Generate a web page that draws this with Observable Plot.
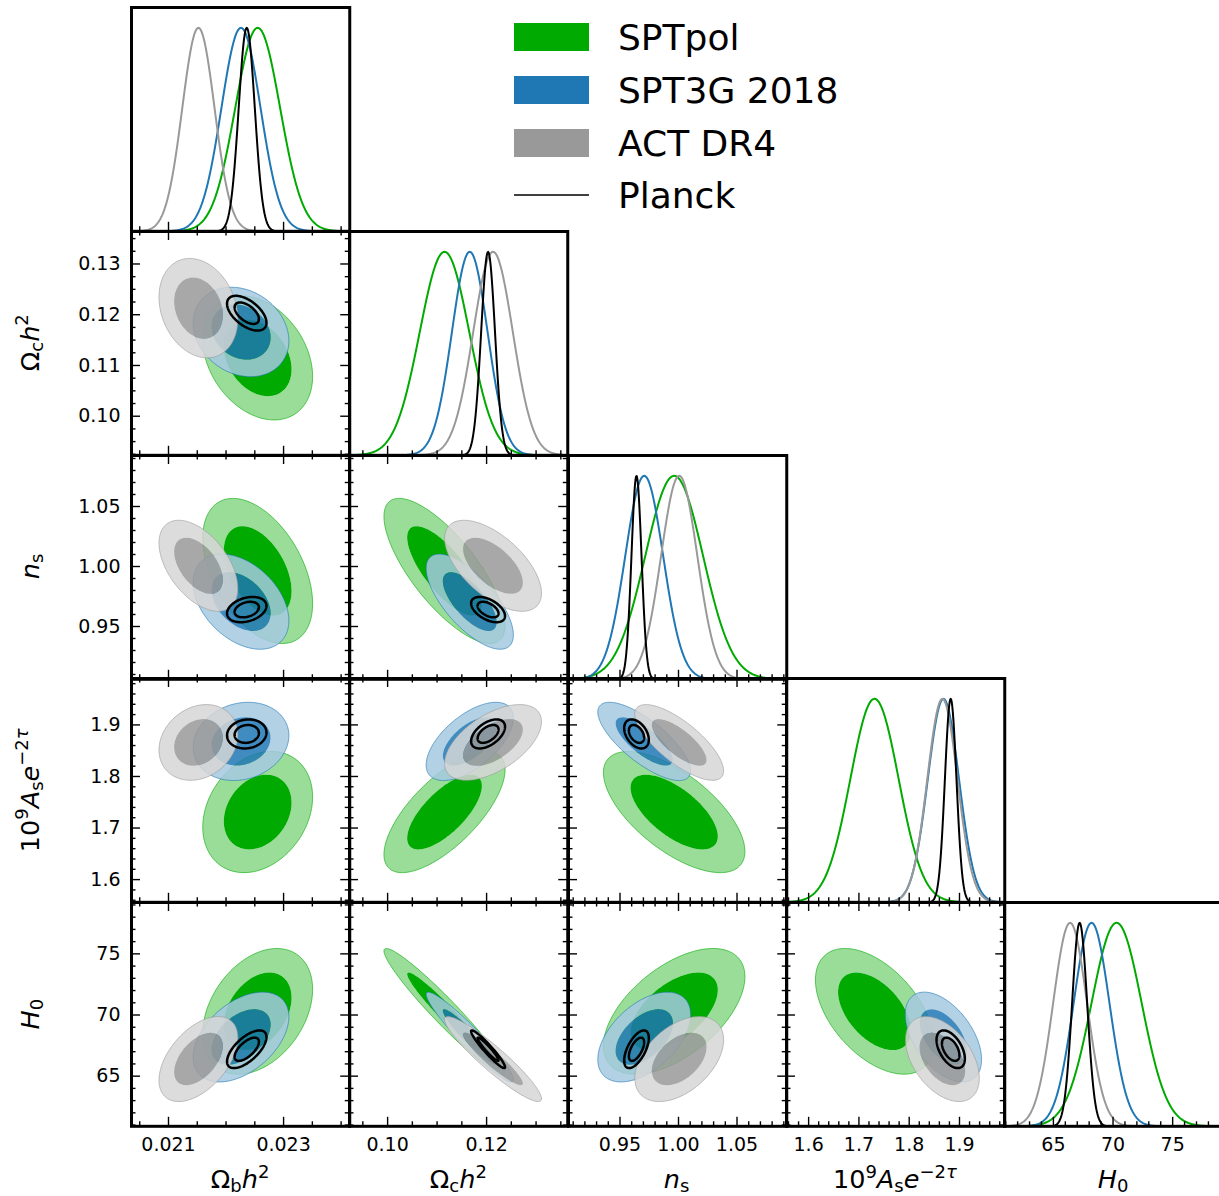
<!DOCTYPE html>
<html>
<head>
<meta charset="utf-8">
<script src="https://cdn.jsdelivr.net/npm/d3@7"></script>
<script src="https://cdn.jsdelivr.net/npm/@observablehq/plot@0.6"></script>
<style>
  body { margin: 0; background: #fff; }
  #fig { position: relative; width: 1219px; height: 1196px; overflow: hidden; background: #fff; }
</style>
</head>
<body>
<div id="fig"></div>
<script>
// ---------------- data ----------------
const paramKeys = ["omegabh2", "omegach2", "ns", "AsExp2tau", "H0"];
const axisMin = [0.020357, 0.0923, 0.9060, 1.556, 60.9];
const axisMax = [0.024150, 0.1364, 1.0925, 1.990, 79.2];
const majorTicksX = [[0.021, 0.023], [0.10, 0.12], [0.95, 1.00, 1.05], [1.6, 1.7, 1.8, 1.9], [65, 70, 75]];
const majorTicksY = [[], [0.10, 0.11, 0.12, 0.13], [0.95, 1.00, 1.05], [1.6, 1.7, 1.8, 1.9], [65, 70, 75]];
const minorStepX = [0.0005, 0.005, 0.01, 0.02, 1];
const minorStepY = [0.0005, 0.0025, 0.01, 0.02, 1];
const tickFormats = [".3f", ".2f", ".2f", ".1f", "d"];

const datasetNames = ["SPTpol", "SPT3G 2018", "ACT DR4", "Planck"];

const meanSPTpol  = [0.02255, 0.1115, 0.9963, 1.731, 70.3];
const sigmaSPTpol = [0.00039, 0.0050, 0.0247, 0.048, 2.1];
const meanSPT3G   = [0.02226, 0.1166, 0.9707, 1.868, 68.2];
const sigmaSPT3G  = [0.00034, 0.0036, 0.0162, 0.031, 1.5];
const meanACT     = [0.02152, 0.1213, 1.0006, 1.866, 66.4];
const sigmaACT    = [0.00028, 0.0040, 0.0155, 0.030, 1.42];
const meanPlanck  = [0.02236, 0.1203, 0.9641, 1.8825, 67.2];
const sigmaPlanck = [0.00014, 0.0014, 0.0043, 0.0115, 0.63];

// correlation coefficient for each parameter pair [x, y]
const pairs = [[0,1],[0,2],[0,3],[0,4],[1,2],[1,3],[1,4],[2,3],[2,4],[3,4]];
const corrSPTpol = [-0.30, -0.45, 0.25, 0.35, -0.75, 0.70, -0.96, -0.65, 0.55, -0.50];
const corrSPT3G  = [-0.20, -0.40, 0.15, 0.45, -0.70, 0.60, -0.95, -0.75, 0.50, -0.50];
const corrACT    = [-0.22, -0.50, 0.20, 0.50, -0.60, 0.55, -0.93, -0.75, 0.45, -0.45];
const corrPlanck = [-0.55,  0.30, 0.10, 0.65, -0.50, 0.50, -0.95, -0.40, 0.60, -0.50];

// ---------------- styles ----------------
const mainColors = ["#00aa00", "#1f77b4", "#999999", "#000000"];
const paleColors = ["#99dd99", "#a5c9e1", "#d6d6d6", null];
const fillAlpha = [1, 0.85, 0.85, 1];

const means = [meanSPTpol, meanSPT3G, meanACT, meanPlanck];
const sigmas = [sigmaSPTpol, sigmaSPT3G, sigmaACT, sigmaPlanck];
const corrs = [corrSPTpol, corrSPT3G, corrACT, corrPlanck];

const X0 = 131, Y0 = 7, W = 218.25, H = 223.8;
const R68 = Math.sqrt(-2 * Math.log(1 - 0.68));
const R95 = Math.sqrt(-2 * Math.log(1 - 0.95));
const FONT = "DejaVu Sans, sans-serif";

function corrFor(d, i, j) {
  const k = pairs.findIndex(p => p[0] === i && p[1] === j);
  return corrs[d][k];
}
function ellipse(d, i, j, r, n = 160) {
  const mx = means[d][i], my = means[d][j], sx = sigmas[d][i], sy = sigmas[d][j];
  const rho = corrFor(d, i, j), s = Math.sqrt(1 - rho * rho);
  const out = [];
  for (let k = 0; k < n; k++) {
    const t = 2 * Math.PI * k / n;
    out.push({x: mx + r * sx * Math.cos(t), y: my + r * sy * (rho * Math.cos(t) + s * Math.sin(t))});
  }
  return out;
}
function gaussian1D(d, i, n = 400) {
  const out = [];
  for (let k = 0; k <= n; k++) {
    const x = axisMin[i] + (axisMax[i] - axisMin[i]) * k / n;
    const z = (x - means[d][i]) / sigmas[d][i];
    out.push({x, y: Math.exp(-0.5 * z * z)});
  }
  return out;
}
function minorTicks(min, max, step, majors) {
  const out = [];
  for (let k = Math.ceil(min / step - 1e-9); k <= Math.floor(max / step + 1e-9); k++) {
    const v = +(k * step).toFixed(8);
    if (!majors.some(m => Math.abs(m - v) < step * 1e-3)) out.push(v);
  }
  return out;
}
function tickMarks(values, side, len, w, h) {
  const o = {stroke: "black", strokeWidth: 1.4};
  if (side === "bottom") return Plot.tickX(values, {x: d => d, insetTop: h - len, ...o});
  if (side === "top") return Plot.tickX(values, {x: d => d, insetBottom: h - len, ...o});
  if (side === "left") return Plot.tickY(values, {y: d => d, insetRight: w - len, ...o});
  return Plot.tickY(values, {y: d => d, insetLeft: w - len, ...o});
}

const fig = document.getElementById("fig");

for (let r = 0; r < 5; r++) {
  for (let c = 0; c <= r; c++) {
    const ml = c === 0 ? X0 : 0;
    const mb = r === 4 ? 70 : 0;
    const marks = [];
    const diag = r === c;
    if (diag) {
      for (let d = 0; d < 4; d++) {
        marks.push(Plot.line(gaussian1D(d, c), {x: "x", y: "y", stroke: mainColors[d], strokeWidth: 2, clip: true}));
      }
    } else {
      for (let d = 0; d < 3; d++) {
        const outer = ellipse(d, c, r, R95);
        const inner = ellipse(d, c, r, R68);
        // ring: outer contour, a gap (new sub-path), then the inner contour reversed -> hole
        const ring = outer.concat([{x: NaN, y: NaN}], inner.slice().reverse());
        marks.push(Plot.line(ring, {x: "x", y: "y", fill: paleColors[d], fillOpacity: fillAlpha[d], stroke: "none", curve: "linear-closed", clip: true}));
        marks.push(Plot.line(inner, {x: "x", y: "y", fill: mainColors[d], fillOpacity: fillAlpha[d], stroke: "none", curve: "linear-closed", clip: true}));
        marks.push(Plot.line(outer, {x: "x", y: "y", fill: "none", stroke: mainColors[d], strokeOpacity: 0.6, strokeWidth: 1, curve: "linear-closed", clip: true}));
      }
      marks.push(Plot.line(ellipse(3, c, r, R95), {x: "x", y: "y", fill: "none", stroke: "black", strokeWidth: 2.5, curve: "linear-closed", clip: true}));
      marks.push(Plot.line(ellipse(3, c, r, R68), {x: "x", y: "y", fill: "none", stroke: "black", strokeWidth: 2.5, curve: "linear-closed", clip: true}));
    }
    // ticks (pointing inward)
    const mxT = majorTicksX[c], mnT = minorTicks(axisMin[c], axisMax[c], minorStepX[c], mxT);
    marks.push(tickMarks(mxT, "bottom", 9, W, H), tickMarks(mnT, "bottom", 4.5, W, H));
    if (!diag) {
      const myT = majorTicksY[r], mnY = minorTicks(axisMin[r], axisMax[r], minorStepY[r], myT);
      marks.push(tickMarks(mxT, "top", 9, W, H), tickMarks(mnT, "top", 4.5, W, H));
      marks.push(tickMarks(myT, "left", 9, W, H), tickMarks(mnY, "left", 4.5, W, H));
      marks.push(tickMarks(myT, "right", 9, W, H), tickMarks(mnY, "right", 4.5, W, H));
    }
    if (c === 0 && !diag) {
      marks.push(Plot.axisY(majorTicksY[r], {anchor: "left", tickSize: 0, tickPadding: 11, tickFormat: d3.format(tickFormats[r]), label: null}));
    }
    if (r === 4) {
      marks.push(Plot.axisX(majorTicksX[c], {anchor: "bottom", tickSize: 0, tickPadding: 11, tickFormat: d3.format(tickFormats[c]), label: null}));
    }
    marks.push(Plot.frame({stroke: "black", strokeWidth: 3}));

    const plot = Plot.plot({
      width: W + ml, height: H + mb,
      marginLeft: ml, marginBottom: mb, marginTop: 0, marginRight: 0,
      x: {domain: [axisMin[c], axisMax[c]], axis: null},
      y: {domain: diag ? [0, 1.1] : [axisMin[r], axisMax[r]], axis: null},
      style: {overflow: "visible", background: "transparent", fontFamily: FONT, fontSize: "19px", color: "black"},
      marks
    });
    plot.style.position = "absolute";
    plot.style.left = (X0 + c * W - ml) + "px";
    plot.style.top = (Y0 + r * H) + "px";
    fig.appendChild(plot);
  }
}

// ---------------- axis titles and legend (text overlay) ----------------
const labelSpecs = [
  [["Ω", ""], ["b", "sub"], ["h", "i"], ["2", "sup"]],
  [["Ω", ""], ["c", "sub"], ["h", "i"], ["2", "sup"]],
  [["n", "i"], ["s", "sub"]],
  [["10", ""], ["9", "sup"], ["A", "i"], ["s", "sub"], ["e", "i"], ["−2", "sup"], ["τ", "supi"]],
  [["H", "i"], ["0", "sub"]]
];
const overlay = d3.create("svg").attr("width", 1219).attr("height", 1196)
  .style("position", "absolute").style("left", "0px").style("top", "0px").style("overflow", "visible")
  .style("font-family", FONT);

function addLabel(spec, x, y, rotate) {
  const t = overlay.append("text").attr("x", x).attr("y", y).attr("text-anchor", "middle")
    .attr("font-size", 25.5).attr("fill", "black");
  if (rotate) t.attr("transform", `rotate(-90,${x},${y})`);
  let cur = 0;
  for (const [txt, st] of spec) {
    let target = 0, size = 25.5, italic = false;
    if (st === "sub") { target = 4; size = 18; }
    if (st === "sup" || st === "supi") { target = -10.5; size = 18; italic = st === "supi"; }
    if (st === "i") italic = true;
    t.append("tspan").attr("dy", target - cur).attr("font-size", size)
      .attr("font-style", italic ? "italic" : "normal").text(txt);
    cur = target;
  }
}
for (let i = 0; i < 5; i++) addLabel(labelSpecs[i], X0 + W * (i + 0.5), 1188, false);
for (let j = 1; j < 5; j++) addLabel(labelSpecs[j], 39, Y0 + H * (j + 0.5), true);

// legend
const legendY = [37, 90, 143, 195];
for (let d = 0; d < 4; d++) {
  if (d < 3) {
    overlay.append("rect").attr("x", 514).attr("y", legendY[d] - 14).attr("width", 75).attr("height", 28)
      .attr("fill", mainColors[d]);
  } else {
    overlay.append("line").attr("x1", 514).attr("x2", 589).attr("y1", legendY[d]).attr("y2", legendY[d])
      .attr("stroke", "black").attr("stroke-width", 1.6);
  }
  overlay.append("text").attr("x", 618).attr("y", legendY[d] + 13).attr("font-size", 36)
    .attr("fill", "black").text(datasetNames[d]);
}
fig.appendChild(overlay.node());
</script>
</body>
</html>
